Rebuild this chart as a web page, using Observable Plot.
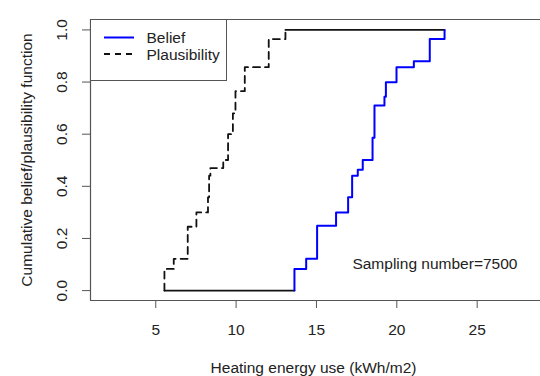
<!DOCTYPE html>
<html>
<head>
<meta charset="utf-8">
<script src="https://cdn.jsdelivr.net/npm/d3@7"></script>
<script src="https://cdn.jsdelivr.net/npm/@observablehq/plot@0.6"></script>
<style>
  body { margin: 0; background: #fff; }
  #wrap { position: relative; width: 540px; height: 376px; font-family: "Liberation Sans", Arial, sans-serif; }
  #legend { position: absolute; left: 90px; top: 19px; width: 137px; height: 62px; border: 1px solid #555; background: #fff; box-sizing: border-box; }
</style>
</head>
<body>
<div id="wrap"><div id="legend"></div></div>
<script>
// ---- data ----
const beliefX = [13.63, 14.36, 15.04, 16.22, 16.97, 17.22, 17.57, 17.88, 18.49, 18.61, 19.23, 19.32, 19.98, 21.06, 22.05, 22.97];
const beliefY = [0.083, 0.122, 0.249, 0.300, 0.358, 0.441, 0.464, 0.501, 0.586, 0.710, 0.744, 0.799, 0.857, 0.880, 0.965, 1.000];
const plausX = [5.54, 6.12, 6.99, 7.53, 8.25, 8.32, 8.40, 9.20, 9.50, 9.80, 9.96, 10.54, 12.03, 13.07];
const plausY = [0.083, 0.122, 0.245, 0.300, 0.358, 0.441, 0.470, 0.501, 0.600, 0.680, 0.765, 0.857, 0.965, 1.000];
const xTicks = [5, 10, 15, 20, 25];
const yTicks = [0, 0.2, 0.4, 0.6, 0.8, 1.0];
const yTickLabels = ["0.0", "0.2", "0.4", "0.6", "0.8", "1.0"];
const xDomain = [0.94, 28.94];
const yDomain = [-0.038, 1.04];
const xTitle = "Heating energy use (kWh/m2)";
const yTitle = "Cumulative belief/plausibility function";
const seriesNames = ["Belief", "Plausibility"];
const note = {x: 22.37, y: 0.10, text: "Sampling number=7500"};

// ---- build ----
const belief = [{x: beliefX[0], y: 0}, ...beliefX.map((x, i) => ({x, y: beliefY[i]}))];
const plaus = [{x: plausX[0], y: 0}, ...plausX.map((x, i) => ({x, y: plausY[i]}))];
const baseLine = [{x: plausX[0], y: 0}, {x: beliefX[0], y: 0}];
const topLine = [{x: plausX[plausX.length - 1], y: 1}, {x: beliefX[beliefX.length - 1], y: 1}];

const font = 15.5;
const chart = Plot.plot({
  width: 540,
  height: 376,
  marginLeft: 90,
  marginRight: 0,
  marginTop: 19,
  marginBottom: 76,
  style: {fontFamily: '"Liberation Sans", Arial, sans-serif', fontSize: font + "px", color: "#222", background: "#fff"},
  x: {domain: xDomain, ticks: xTicks, tickSize: 8, tickPadding: 15, tickFormat: d => String(d), label: null},
  y: {domain: yDomain, ticks: yTicks, tickSize: 8, tickFormat: () => "", label: null},
  marks: [
    Plot.ruleX([xDomain[0]], {stroke: "#555", strokeWidth: 1.2}),
    Plot.ruleY([yDomain[0], yDomain[1]], {stroke: "#555", strokeWidth: 1.2}),
    Plot.line(baseLine, {x: "x", y: "y", stroke: "#111", strokeWidth: 1.8}),
    Plot.line(topLine, {x: "x", y: "y", stroke: "#111", strokeWidth: 1.8}),
    Plot.line(plaus, {x: "x", y: "y", curve: "step-after", stroke: "#111", strokeWidth: 1.8, strokeDasharray: "7,5"}),
    Plot.line(belief, {x: "x", y: "y", curve: "step-after", stroke: "#0000ff", strokeWidth: 2}),
    Plot.text([note], {x: "x", y: "y", text: "text", fill: "#222", fontSize: font}),
    Plot.text(yTicks, {y: d => d, text: (d, i) => yTickLabels[i], frameAnchor: "left", dx: -28.3, rotate: -90, textAnchor: "middle", lineAnchor: "middle", fill: "#222", fontSize: font}),
    Plot.text([xTitle], {text: d => d, frameAnchor: "bottom", dx: -2, dy: 68, textAnchor: "middle", lineAnchor: "middle", fill: "#222", fontSize: font}),
    Plot.text([yTitle], {text: d => d, frameAnchor: "left", dx: -63, rotate: -90, textAnchor: "middle", lineAnchor: "middle", fill: "#222", fontSize: font})
  ]
});
d3.select(chart).selectAll("[aria-label='x-axis tick'] path, [aria-label='y-axis tick'] path").attr("stroke", "#555");
document.getElementById("wrap").prepend(chart);

// legend
const leg = d3.select("#legend").append("svg").attr("width", 135).attr("height", 60)
  .style("font-family", '"Liberation Sans", Arial, sans-serif').style("font-size", font + "px");
leg.append("line").attr("x1", 13).attr("x2", 43).attr("y1", 17.5).attr("y2", 17.5).attr("stroke", "#0000ff").attr("stroke-width", 2);
leg.append("line").attr("x1", 13).attr("x2", 43).attr("y1", 34).attr("y2", 34).attr("stroke", "#111").attr("stroke-width", 1.8).attr("stroke-dasharray", "6,5");
leg.append("text").attr("x", 55.5).attr("y", 23).attr("fill", "#222").text(seriesNames[0]);
leg.append("text").attr("x", 55.5).attr("y", 40).attr("fill", "#222").text(seriesNames[1]);
</script>
</body>
</html>
